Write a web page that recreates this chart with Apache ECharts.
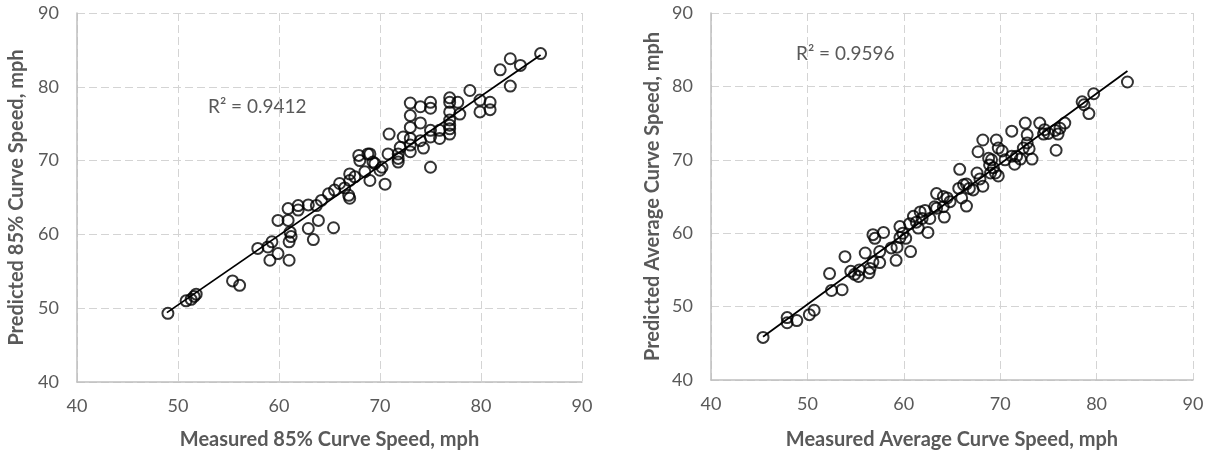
<!DOCTYPE html>
<html><head><meta charset="utf-8">
<script src="https://cdn.jsdelivr.net/npm/echarts@6/dist/echarts.min.js"></script>
<style>html,body{margin:0;padding:0;background:#fff}#c{width:1215px;height:459px}</style>
</head><body><div id="c"></div>
<script>
// Left panel: measured vs predicted 85% curve speed (mph)
const left85Points = [
[49,49.3],[50.8,51.0],[51.3,51.2],[51.6,51.6],[51.8,51.9],[55.4,53.7],[56.1,53.1],
[57.9,58.1],[58.9,58.3],[59.3,59.0],[59.1,56.5],[59.9,57.4],[59.9,61.9],[60.9,63.5],[60.9,61.9],
[61.1,60.3],[61.2,59.7],[61.0,59.0],[61.0,56.5],[61.9,63.9],[61.9,63.3],[62.9,64.0],[62.9,60.8],
[63.4,59.3],[63.9,61.9],[63.7,63.9],[64.2,64.6],[64.9,65.5],[65.4,60.9],[65.5,66.0],[66.0,66.9],
[66.5,66.3],[66.9,65.3],[67.0,64.9],[67.0,68.2],[67.0,67.3],[67.5,67.8],[67.9,70.7],[68.0,70.0],
[68.8,70.9],[69.5,69.6],[69.0,67.3],[68.5,68.5],[69.0,70.9],[69.3,69.8],[70.2,69.1],[70.0,68.7],
[70.5,66.8],[70.9,73.6],[70.8,70.9],[71.8,70.9],[71.8,70.3],[71.8,69.8],[72.0,71.8],[72.3,73.2],
[73.0,73.0],[73.0,72.1],[73.0,71.2],[73.0,74.5],[73.0,76.1],[73.0,77.8],[74.0,77.3],[74.0,75.1],
[74.0,72.7],[74.3,71.7],[75.0,77.9],[75.0,77.1],[75.0,74.1],[75.0,73.2],[75.0,69.1],[75.9,74.1],
[75.9,73.0],[76.9,78.5],[76.9,77.9],[76.9,76.6],[76.9,75.5],[76.9,74.8],[76.9,74.3],[76.9,73.6],
[77.7,77.9],[77.9,76.3],[78.9,79.5],[79.9,78.2],[79.9,76.6],[80.9,77.9],[80.9,76.9],[81.9,82.3],
[82.9,83.8],[82.9,80.1],[83.9,82.9],[85.9,84.5]
];
const left85Trend = [[48.9,49.4],[85.9,84.3]];
const left85R2 = 'R² = 0.9412';

// Right panel: measured vs predicted average curve speed (mph)
const rightAvgPoints = [
[45.4,45.8],[47.9,48.5],[47.9,47.8],[48.9,48.1],[50.2,48.9],[50.7,49.5],
[52.3,54.5],[52.5,52.2],[53.6,52.3],[53.9,56.8],[54.5,54.8],[54.9,54.4],[55.3,54.1],[55.4,55.0],
[56.0,57.3],[56.4,54.6],[56.5,55.2],[56.8,56.1],[57.5,56.0],[57.5,57.5],[56.8,59.8],[57.9,60.1],
[57.0,59.3],[58.7,58.0],[59.3,58.1],[59.2,56.3],[59.6,60.9],[59.9,60.0],[59.6,59.4],[60.2,59.3],
[60.7,57.5],[60.6,61.3],[61.3,61.5],[61.5,60.7],[62.5,60.1],[61.0,62.3],[61.9,62.0],[61.7,62.9],
[62.2,63.1],[62.7,62.0],[63.4,65.4],[64.1,65.0],[64.2,62.2],[63.4,63.4],[64.5,64.8],[64.8,64.3],
[63.2,63.6],[64.1,63.6],[65.8,68.7],[65.7,66.1],[66.2,66.6],[66.5,66.7],[66.8,66.1],[67.2,65.9],
[68.2,66.4],[66.0,64.8],[66.5,63.7],[67.6,68.2],[67.9,67.4],[67.7,71.1],[68.2,72.7],[69.6,72.7],
[69.8,71.6],[70.2,71.2],[68.8,70.2],[69.1,70.0],[68.9,69.3],[69.3,68.9],[69.0,68.2],[69.8,67.8],
[69.5,68.2],[71.2,73.9],[72.6,75.0],[74.1,75.0],[72.8,73.4],[72.8,72.3],[72.4,71.6],[73.0,71.5],
[71.7,70.5],[72.1,70.1],[73.3,70.1],[71.5,69.4],[70.5,70.0],[71.2,70.5],[74.5,73.5],[75.0,73.6],
[75.7,74.0],[76.2,74.3],[76.7,75.0],[76.0,73.5],[74.6,74.1],[75.8,71.3],[78.5,77.9],[78.7,77.5],
[79.2,76.3],[79.7,79.0],[83.2,80.6]
];
const rightAvgTrend = [[45.4,45.9],[83.2,82.1]];
const rightAvgR2 = 'R² = 0.9596';

const axisMin = 40, axisMax = 90, axisStep = 10;
const xTitles = ['Measured 85% Curve Speed, mph', 'Measured Average Curve Speed, mph'];
const yTitles = ['Predicted 85% Curve Speed, mph', 'Predicted Average Curve Speed, mph'];

const FONT = 'Lato, "Open Sans", sans-serif';
const grey = '#595959';

function xAx(i){
  return {gridIndex:i, type:'value', min:axisMin, max:axisMax, interval:axisStep,
    name:xTitles[i], nameLocation:'middle', nameGap:i===0?48:50,
    nameTextStyle:{color:grey, fontSize:20, fontWeight:'bold', fontFamily:FONT},
    axisLine:{show:true, onZero:false, lineStyle:{color:'#bfbfbf', width:1.5}},
    axisTick:{show:false},
    axisLabel:{color:grey, fontSize:18, fontFamily:FONT, margin:15},
    splitLine:{show:true, lineStyle:{color:'#d4d4d4', width:1, type:[8,4]}}};
}
function yAx(i){
  return {gridIndex:i, type:'value', min:axisMin, max:axisMax, interval:axisStep,
    name:yTitles[i], nameLocation:'middle', nameGap:i===0?50:48,
    nameTextStyle:{color:grey, fontSize:20, fontWeight:'bold', fontFamily:FONT},
    axisLine:{show:true, onZero:false, lineStyle:{color:'#bfbfbf', width:1.5}},
    axisTick:{show:false},
    axisLabel:{color:grey, fontSize:18, fontFamily:FONT, margin:18},
    splitLine:{show:true, lineStyle:{color:'#d4d4d4', width:1, type:[8,4]}}};
}
const scatterStyle = {color:'rgba(0,0,0,0)', borderColor:'#000', borderWidth:2};

const chart = echarts.init(document.getElementById('c'), null, {renderer:'canvas'});
chart.setOption({
  animation:false,
  backgroundColor:'#fff',
  grid:[
    {left:77, top:13, width:505, height:369},
    {left:711, top:13, width:482, height:367}
  ],
  xAxis:[xAx(0), xAx(1)],
  yAxis:[yAx(0), yAx(1)],
  series:[
    {type:'line', xAxisIndex:0, yAxisIndex:0, data:left85Trend, symbol:'none',
     lineStyle:{color:'#000', width:1.8}, z:3},
    {type:'scatter', xAxisIndex:0, yAxisIndex:0, data:left85Points, symbol:'circle',
     symbolSize:11, itemStyle:scatterStyle, z:4},
    {type:'line', xAxisIndex:1, yAxisIndex:1, data:rightAvgTrend, symbol:'none',
     lineStyle:{color:'#000', width:1.8}, z:3},
    {type:'scatter', xAxisIndex:1, yAxisIndex:1, data:rightAvgPoints, symbol:'circle',
     symbolSize:11, itemStyle:scatterStyle, z:4}
  ],
  graphic:[
    {type:'text', left:208, top:97, style:{text:left85R2, fill:grey, fontSize:19, fontFamily:FONT}},
    {type:'text', left:796, top:44, style:{text:rightAvgR2, fill:grey, fontSize:19, fontFamily:FONT}}
  ]
});
</script></body></html>
